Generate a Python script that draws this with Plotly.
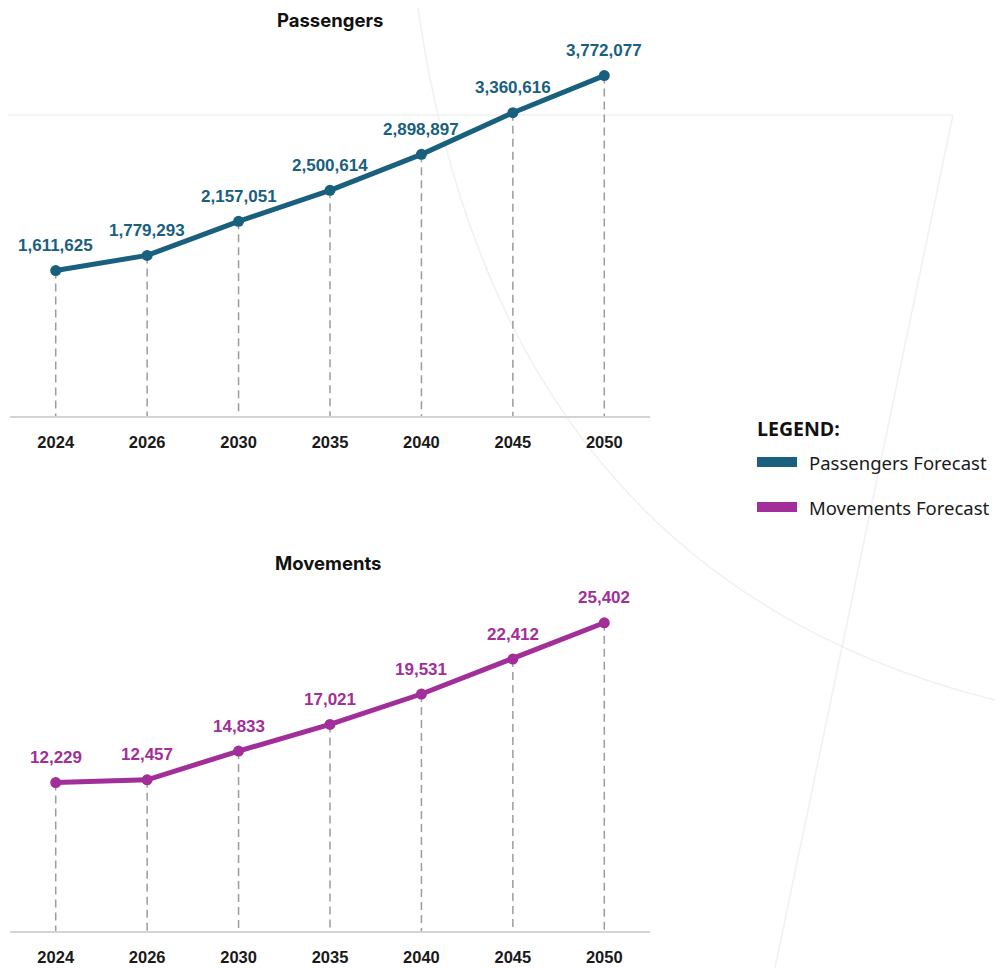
import plotly.graph_objects as go

years = ["2024", "2026", "2030", "2035", "2040", "2045", "2050"]
passengers = [1611625, 1779293, 2157051, 2500614, 2898897, 3360616, 3772077]
movements = [12229, 12457, 14833, 17021, 19531, 22412, 25402]

series_names = ["Passengers Forecast", "Movements Forecast"]
panel_titles = ["Passengers", "Movements"]

C_PAX = "#19607f"
C_MOV = "#a22f99"
C_DASH = "#9c9c9c"

OFF = 8  # default page body margin
W, H = 1003 - OFF, 968 - OFF


def px(x):
    return (x - OFF) / W


def py(y):
    return 1 - (y - OFF) / H


fig = go.Figure()
label_font = dict(family="Liberation Sans, Arial", size=17, weight="bold")


def add_panel(vals, color, xa, ya):
    dx, dy = [], []
    for c, v in zip(years, vals):
        dx += [c, c, None]
        dy += [v, 0, None]
    fig.add_trace(go.Scatter(x=dx, y=dy, mode="lines", xaxis=xa, yaxis=ya,
                             line=dict(color=C_DASH, width=1.5, dash="8px,5px"),
                             hoverinfo="skip", showlegend=False))
    fig.add_trace(go.Scatter(x=years, y=vals, mode="lines+markers", xaxis=xa, yaxis=ya,
                             line=dict(color=color, width=5),
                             marker=dict(color=color, size=11),
                             cliponaxis=False, showlegend=False))
    for i, v in enumerate(vals):
        fig.add_annotation(x=i, y=v, xref=xa, yref=ya, text=f"{v:,}", showarrow=False,
                           yshift=25, xanchor="center", yanchor="middle",
                           font=dict(color=color, **label_font))


add_panel(passengers, C_PAX, "x", "y")
add_panel(movements, C_MOV, "x2", "y2")

xcommon = dict(type="category", categoryorder="array", categoryarray=years,
               range=[-0.5, 6.5], showline=True, linecolor="#d4d4d4", linewidth=2,
               showgrid=False, zeroline=False, ticks="", ticklabelstandoff=10,
               tickfont=dict(family="Liberation Sans, Arial", size=16.5, color="#1a1a1a",
                             weight="bold"))
ycommon = dict(showline=False, showgrid=False, zeroline=False, showticklabels=False, ticks="")

fig.update_layout(
    width=W, height=H,
    margin=dict(l=0, r=0, t=0, b=0),
    paper_bgcolor="white", plot_bgcolor="rgba(0,0,0,0)",
    showlegend=False,
    xaxis=dict(domain=[px(10), px(650)], anchor="y", **xcommon),
    yaxis=dict(domain=[py(416), py(55)], range=[0, 4000000], anchor="x", **ycommon),
    xaxis2=dict(domain=[px(10), px(650)], anchor="y2", **xcommon),
    yaxis2=dict(domain=[py(931), py(567)], range=[0, 30000], anchor="x2", **ycommon),
)

# faint decorative background lines
bg = "#f1f1f1"
fig.add_shape(type="line", xref="paper", yref="paper", x0=0, y0=py(115), x1=px(953), y1=py(115),
              line=dict(color=bg, width=1.5), layer="below")
fig.add_shape(type="line", xref="paper", yref="paper", x0=px(953), y0=py(115), x1=px(775), y1=py(968),
              line=dict(color=bg, width=1.5), layer="below")
fig.add_shape(type="path", xref="paper", yref="paper",
              path=f"M {px(418)} {py(8)} Q {px(500)} {py(580)} {px(1003)} {py(702)}",
              line=dict(color=bg, width=1.5), layer="below")

# panel titles
title_font = dict(family="Inter, Roboto, sans-serif", size=18.5, color="#111111", weight="bold")
fig.add_annotation(text=panel_titles[0], xref="paper", yref="paper", x=px(330), y=1,
                   showarrow=False, font=title_font, xanchor="center", yanchor="top",
                   borderpad=0)
fig.add_annotation(text=panel_titles[1], xref="paper", yref="paper", x=px(328), y=py(563),
                   showarrow=False, font=title_font, xanchor="center", yanchor="middle")

# legend
fig.add_annotation(text="LEGEND:", xref="paper", yref="paper", x=px(755), y=py(428),
                   showarrow=False, xanchor="left", yanchor="middle",
                   font=dict(family="Open Sans, Noto Sans, sans-serif", size=19.5, color="#111111",
                             weight="bold"))
for name, col, yc in [(series_names[0], C_PAX, 462), (series_names[1], C_MOV, 507)]:
    fig.add_shape(type="rect", xref="paper", yref="paper", x0=px(757), x1=px(797),
                  y0=py(yc + 5), y1=py(yc - 5), fillcolor=col, line=dict(width=0))
    fig.add_annotation(text=name, xref="paper", yref="paper", x=px(807), y=py(yc),
                       showarrow=False, xanchor="left", yanchor="middle",
                       font=dict(family="Noto Sans, Open Sans, sans-serif", size=18.5, color="#1a1a1a"))

fig.write_html("out.html")
